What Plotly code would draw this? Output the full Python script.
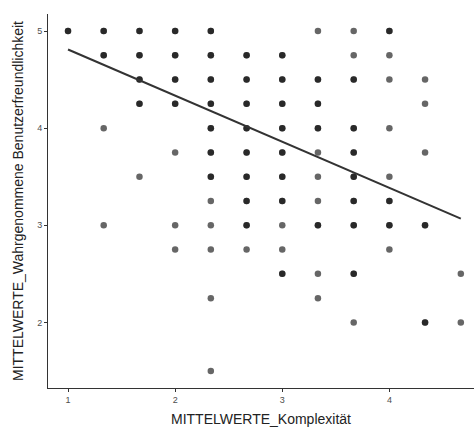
import plotly.graph_objects as go

# Mean scores per respondent: complexity (x) vs. perceived usability (y).
# n = number of respondents sharing the same pair of means.
komplexitaet = [
    1.000,
    1.333, 1.333, 1.333, 1.333,
    1.667, 1.667, 1.667, 1.667, 1.667,
    2.000, 2.000, 2.000, 2.000, 2.000, 2.000, 2.000,
    2.333, 2.333, 2.333, 2.333, 2.333, 2.333, 2.333, 2.333, 2.333, 2.333, 2.333, 2.333,
    2.667, 2.667, 2.667, 2.667, 2.667, 2.667, 2.667, 2.667, 2.667,
    3.000, 3.000, 3.000, 3.000, 3.000, 3.000, 3.000, 3.000, 3.000, 3.000,
    3.333, 3.333, 3.333, 3.333, 3.333, 3.333, 3.333, 3.333, 3.333, 3.333,
    3.667, 3.667, 3.667, 3.667, 3.667, 3.667, 3.667, 3.667, 3.667, 3.667,
    4.000, 4.000, 4.000, 4.000, 4.000, 4.000, 4.000, 4.000,
    4.333, 4.333, 4.333, 4.333, 4.333,
    4.667, 4.667,
]
benutzerfreundlichkeit = [
    5.00,
    5.00, 4.75, 4.00, 3.00,
    5.00, 4.75, 4.50, 4.25, 3.50,
    5.00, 4.75, 4.50, 4.25, 3.75, 3.00, 2.75,
    5.00, 4.75, 4.50, 4.25, 4.00, 3.75, 3.50, 3.25, 3.00, 2.75, 2.25, 1.50,
    4.75, 4.50, 4.25, 4.00, 3.75, 3.50, 3.25, 3.00, 2.75,
    4.75, 4.50, 4.25, 4.00, 3.75, 3.50, 3.25, 3.00, 2.75, 2.50,
    5.00, 4.50, 4.25, 4.00, 3.75, 3.50, 3.25, 3.00, 2.50, 2.25,
    5.00, 4.75, 4.50, 4.00, 3.75, 3.50, 3.25, 3.00, 2.50, 2.00,
    5.00, 4.75, 4.50, 4.00, 3.50, 3.25, 3.00, 2.75,
    4.50, 4.25, 3.75, 3.00, 2.00,
    2.50, 2.00,
]
n = [
    2,
    2, 2, 1, 1,
    2, 2, 2, 2, 1,
    2, 2, 2, 2, 1, 1, 1,
    2, 2, 2, 2, 2, 2, 2, 1, 1, 1, 1, 1,
    2, 2, 2, 2, 2, 2, 2, 2, 1,
    2, 2, 2, 2, 2, 2, 2, 1, 1, 2,
    1, 2, 2, 2, 1, 1, 1, 2, 1, 1,
    1, 1, 2, 2, 2, 2, 2, 2, 2, 1,
    2, 1, 1, 1, 1, 2, 2, 1,
    1, 1, 1, 2, 2,
    1, 1,
]

# Linear fit (lm) of usability on complexity
fit_intercept = 5.285
fit_slope = -0.475

# Expand to one marker per respondent so overlapping points darken
px, py = [], []
for xv, yv, k in zip(komplexitaet, benutzerfreundlichkeit, n):
    px += [xv] * k
    py += [yv] * k

fig = go.Figure()
fig.add_trace(go.Scatter(
    x=px, y=py, mode="markers",
    marker=dict(size=6.5, color="rgba(0,0,0,0.6)", line=dict(width=0)),
    hoverinfo="skip", showlegend=False,
))

x_lo, x_hi = min(komplexitaet), max(komplexitaet)
fig.add_trace(go.Scatter(
    x=[x_lo, x_hi],
    y=[fit_intercept + fit_slope * x_lo, fit_intercept + fit_slope * x_hi],
    mode="lines", line=dict(color="#333333", width=2),
    hoverinfo="skip", showlegend=False,
))

axis_common = dict(
    showgrid=False, zeroline=False, showline=True,
    linecolor="#333333", linewidth=1,
    ticks="outside", ticklen=3, tickwidth=1, tickcolor="#333333",
    tickfont=dict(family="Liberation Sans, Arial, sans-serif", size=9, color="#4d4d4d"),
    title_font=dict(family="Liberation Sans, Arial, sans-serif", size=14, color="#222222"),
)

fig.update_layout(
    width=474, height=440,
    margin=dict(l=48, r=0, t=14, b=52),
    paper_bgcolor="white", plot_bgcolor="white",
    xaxis=dict(range=[0.813, 4.79], tickvals=[1, 2, 3, 4],
               title=dict(text="MITTELWERTE_Komplexität", standoff=10), **axis_common),
    yaxis=dict(range=[1.325, 5.175], tickvals=[2, 3, 4, 5],
               title=dict(text="MITTELWERTE_Wahrgenommene Benutzerfreundlichkeit", standoff=10),
               **axis_common),
)

fig.write_html("out.html")
